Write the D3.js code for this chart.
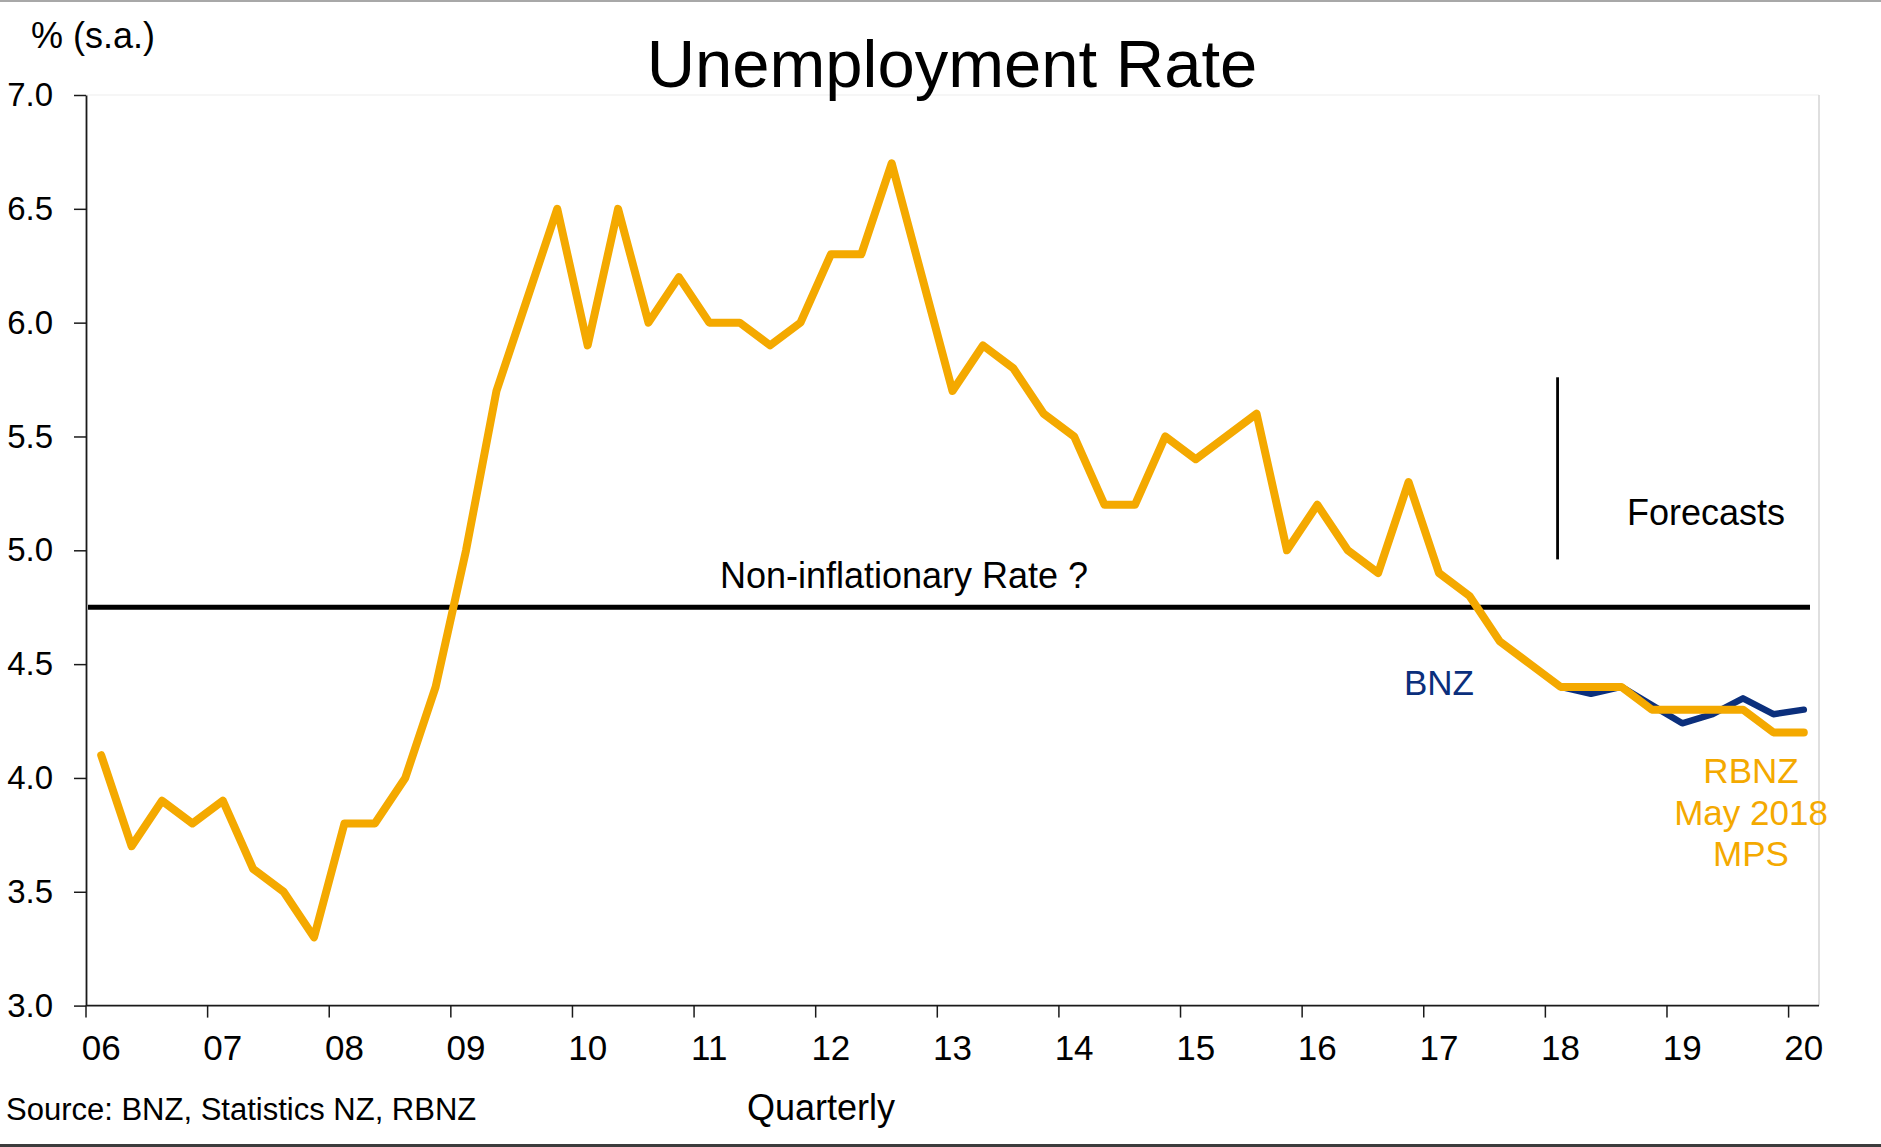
<!DOCTYPE html>
<html>
<head>
<meta charset="utf-8">
<title>Unemployment Rate</title>
<script src="https://cdn.jsdelivr.net/npm/d3@7"></script>
<style>
  html, body { margin: 0; padding: 0; background: #ffffff; }
  svg { display: block; }
  text { font-family: "Liberation Sans", Arial, Helvetica, sans-serif; }
</style>
</head>
<body>
<svg id="chart" width="1881" height="1147"></svg>
<script>
// Quarterly periods, Mar-2006 through Mar-2020
const years = d3.range(2006, 2021);
const quarters = [];
years.forEach(y => [1, 2, 3, 4].forEach(q => {
  if (y < 2020 || q === 1) quarters.push(y + "Q" + q);
}));

// Unemployment rate, % s.a. — actuals to Mar-18 then RBNZ May 2018 MPS track
const rbnzSeries = [
  4.1, 3.7, 3.9, 3.8,
  3.9, 3.6, 3.5, 3.3,
  3.8, 3.8, 4.0, 4.4,
  5.0, 5.7, 6.1, 6.5,
  5.9, 6.5, 6.0, 6.2,
  6.0, 6.0, 5.9, 6.0,
  6.3, 6.3, 6.7, 6.2,
  5.7, 5.9, 5.8, 5.6,
  5.5, 5.2, 5.2, 5.5,
  5.4, 5.5, 5.6, 5.0,
  5.2, 5.0, 4.9, 5.3,
  4.9, 4.8, 4.6, 4.5,
  4.4, 4.4, 4.4, 4.3,
  4.3, 4.3, 4.3, 4.2,
  4.2
];

// BNZ forecast track, starting from the last actual (Mar-18)
const bnzStart = "2018Q1";
const bnzSeries = [4.4, 4.37, 4.4, 4.32, 4.24, 4.28, 4.35, 4.28, 4.3];

// Assumed non-inflationary unemployment rate
const nairu = 4.75;

// Forecast divider, in % units
const forecastMarker = { quarter: "2018Q1", from: 4.96, to: 5.76 };

const yTicks = [3.0, 3.5, 4.0, 4.5, 5.0, 5.5, 6.0, 6.5, 7.0];
const xTickLabels = ["06","07","08","09","10","11","12","13","14","15","16","17","18","19","20"];

const orange = "#f4a900";
const navy = "#0b2f7c";

const svg = d3.select("#chart");

const plot = { left: 86, right: 1819, top: 95, bottom: 1005.6 };

const x = d3.scaleBand().domain(quarters).range([plot.left, plot.right]).padding(0);
const bw = x.bandwidth();
const xc = q => x(q) + bw / 2;
const y = d3.scaleLinear().domain([3, 7]).range([plot.bottom, plot.top]);

// frame lines across the top and bottom of the slide
svg.append("rect").attr("x", 0).attr("y", 0).attr("width", 1881).attr("height", 2).attr("fill", "#a8a8a8");
svg.append("rect").attr("x", 0).attr("y", 1144).attr("width", 1881).attr("height", 3).attr("fill", "#3c3c3c");

// light plot border, top and right
svg.append("line")
  .attr("x1", plot.left).attr("x2", plot.right)
  .attr("y1", plot.top).attr("y2", plot.top)
  .attr("stroke", "#ededed").attr("stroke-width", 1.2);
svg.append("line")
  .attr("x1", plot.right).attr("x2", plot.right)
  .attr("y1", plot.top).attr("y2", plot.bottom)
  .attr("stroke", "#d4d4d4").attr("stroke-width", 1.5);

// Y axis
const yAxis = d3.axisLeft(y)
  .tickValues(yTicks)
  .tickFormat(d3.format(".1f"))
  .tickSize(12)
  .tickSizeOuter(0)
  .tickPadding(21);
const gy = svg.append("g").attr("transform", `translate(${plot.left},0)`).call(yAxis);
gy.select(".domain").attr("stroke", "#1a1a1a").attr("stroke-width", 1.8);
gy.selectAll(".tick line").attr("stroke", "#1a1a1a").attr("stroke-width", 1.5);
gy.selectAll(".tick text")
  .attr("font-size", 33)
  .attr("fill", "#000")
  .attr("font-family", "'Liberation Sans', Arial, sans-serif");

// X axis: ticks at the start of each year, labels centred on its first quarter
const gx = svg.append("g");
gx.append("line")
  .attr("x1", plot.left).attr("x2", plot.right)
  .attr("y1", plot.bottom).attr("y2", plot.bottom)
  .attr("stroke", "#1a1a1a").attr("stroke-width", 1.8);
const firstQuarters = quarters.filter(q => q.endsWith("Q1"));
gx.selectAll("line.tick")
  .data(firstQuarters)
  .join("line")
  .attr("class", "tick")
  .attr("x1", q => x(q)).attr("x2", q => x(q))
  .attr("y1", plot.bottom).attr("y2", plot.bottom + 12)
  .attr("stroke", "#1a1a1a").attr("stroke-width", 1.5);
gx.selectAll("text.tick")
  .data(firstQuarters)
  .join("text")
  .attr("class", "tick")
  .attr("x", q => xc(q))
  .attr("y", plot.bottom + 54)
  .attr("text-anchor", "middle")
  .attr("font-size", 35)
  .attr("fill", "#000")
  .text((q, i) => xTickLabels[i]);

// Non-inflationary rate reference line
svg.append("line")
  .attr("x1", plot.left + 2).attr("x2", plot.right - 9)
  .attr("y1", y(nairu)).attr("y2", y(nairu))
  .attr("stroke", "#000").attr("stroke-width", 5);

svg.append("text")
  .attr("x", 904).attr("y", y(nairu) - 19)
  .attr("text-anchor", "middle")
  .attr("font-size", 36)
  .text("Non-inflationary Rate ?");

// Forecast divider
svg.append("line")
  .attr("x1", xc(forecastMarker.quarter) - 3).attr("x2", xc(forecastMarker.quarter) - 3)
  .attr("y1", y(forecastMarker.to)).attr("y2", y(forecastMarker.from))
  .attr("stroke", "#000").attr("stroke-width", 2.8);

svg.append("text")
  .attr("x", 1627).attr("y", 525)
  .attr("font-size", 36)
  .text("Forecasts");

// Series lines
const line = d3.line().x(d => xc(d.q)).y(d => y(d.v));
const bnzOffset = quarters.indexOf(bnzStart);
const bnzData = bnzSeries.map((v, i) => ({ q: quarters[bnzOffset + i], v }));
const rbnzData = rbnzSeries.map((v, i) => ({ q: quarters[i], v }));

svg.append("path")
  .datum(bnzData)
  .attr("d", line)
  .attr("fill", "none")
  .attr("stroke", navy)
  .attr("stroke-width", 6.5)
  .attr("stroke-linejoin", "round")
  .attr("stroke-linecap", "round");

svg.append("path")
  .datum(rbnzData)
  .attr("d", line)
  .attr("fill", "none")
  .attr("stroke", orange)
  .attr("stroke-width", 8)
  .attr("stroke-linejoin", "round")
  .attr("stroke-linecap", "round");

// Series labels
svg.append("text")
  .attr("x", 1404).attr("y", 695)
  .attr("font-size", 35)
  .attr("fill", navy)
  .text("BNZ");

const rbnzLabel = svg.append("text")
  .attr("text-anchor", "middle")
  .attr("font-size", 35)
  .attr("fill", orange);
["RBNZ", "May 2018", "MPS"].forEach((t, i) => {
  rbnzLabel.append("tspan")
    .attr("x", 1751)
    .attr("y", 783 + i * 41.7)
    .text(t);
});

// Titles and notes
svg.append("text")
  .attr("x", 952).attr("y", 86.5)
  .attr("text-anchor", "middle")
  .attr("font-size", 67)
  .text("Unemployment Rate");

svg.append("text")
  .attr("x", 31).attr("y", 48)
  .attr("font-size", 36)
  .text("% (s.a.)");

svg.append("text")
  .attr("x", 6).attr("y", 1120)
  .attr("font-size", 31)
  .text("Source: BNZ, Statistics NZ, RBNZ");

svg.append("text")
  .attr("x", 821).attr("y", 1120)
  .attr("text-anchor", "middle")
  .attr("font-size", 36)
  .text("Quarterly");
</script>
</body>
</html>
